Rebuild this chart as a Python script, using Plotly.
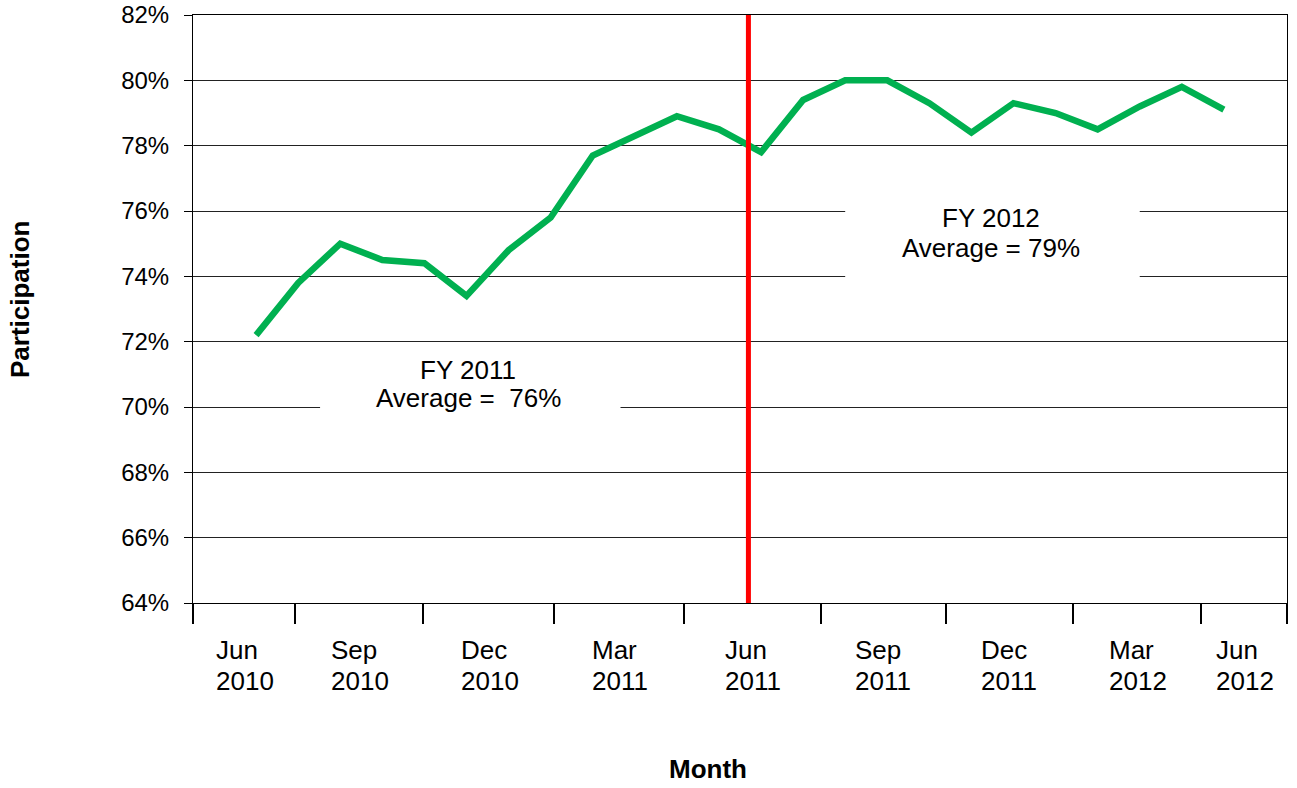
import plotly.graph_objects as go

# ---- data ----
months = ["Jul 2010", "Aug 2010", "Sep 2010", "Oct 2010", "Nov 2010", "Dec 2010",
          "Jan 2011", "Feb 2011", "Mar 2011", "Apr 2011", "May 2011", "Jun 2011",
          "Jul 2011", "Aug 2011", "Sep 2011", "Oct 2011", "Nov 2011", "Dec 2011",
          "Jan 2012", "Feb 2012", "Mar 2012", "Apr 2012", "May 2012", "Jun 2012"]
participation = [72.2, 73.8, 75.0, 74.5, 74.4, 73.4, 74.8, 75.8, 77.7, 78.3, 78.9, 78.5,
                 77.8, 79.4, 80.0, 80.0, 79.3, 78.4, 79.3, 79.0, 78.5, 79.2, 79.8, 79.1]
tick_labels = ["Jun<br>2010", "Sep<br>2010", "Dec<br>2010", "Mar<br>2011", "Jun<br>2011",
               "Sep<br>2011", "Dec<br>2011", "Mar<br>2012", "Jun<br>2012"]
fy_labels = ["FY 2011<br>Average =  76%", "FY 2012<br>Average = 79%"]

# ---- layout helpers (positions on the month-index axis) ----
x_idx = list(range(len(participation)))
tick_bounds = [-1.5, 0.93, 3.97, 7.09, 10.18, 13.42, 16.39, 19.41, 22.45, 24.5]
label_pos = [(a + b) / 2 for a, b in zip(tick_bounds[:-1], tick_bounds[1:])]
fy_divider = 11.7
fy_anchor = [(5.04, 70.7, 14), (17.46, 75.33, 15)]  # x, y, half line spacing (px)

FONT = "Liberation Sans, Arial, sans-serif"
FS = 26

fig = go.Figure()
fig.add_trace(go.Scatter(
    x=x_idx, y=participation, mode="lines",
    line=dict(color="#00B050", width=6.5),
    customdata=months,
    hovertemplate="%{customdata}: %{y:.1f}%<extra></extra>",
    showlegend=False,
))

# white text boxes hiding gridlines behind the FY notes
fig.add_shape(type="rect", x0=1.52, x1=8.66, y0=68.7, y1=71.5, layer="between",
              fillcolor="white", line=dict(width=0))
fig.add_shape(type="rect", x0=14.0, x1=21.0, y0=73.7, y1=76.5, layer="between",
              fillcolor="white", line=dict(width=0))

# FY divider
fig.add_shape(type="line", x0=fy_divider, x1=fy_divider, y0=64, y1=82,
              line=dict(color="#FF0000", width=5), layer="above")

annotations = []
for (ax, ay, half), txt in zip(fy_anchor, fy_labels):
    lines = txt.split("<br>")
    for k, ln in enumerate(lines):
        annotations.append(dict(x=ax, y=ay, xref="x", yref="y", text=ln,
                                showarrow=False, xanchor="center", yanchor="middle",
                                yshift=half if k == 0 else -half,
                                font=dict(family=FONT, size=FS, color="black")))
year_half_w = 0.5 * 4 * 0.556 * FS
for pos, lab in zip(label_pos, tick_labels):
    for k, ln in enumerate(lab.split("<br>")):
        annotations.append(dict(x=pos, y=0, xref="x", yref="paper", text=ln,
                                showarrow=False, xanchor="left", yanchor="middle",
                                xshift=-year_half_w - 1, yshift=-47 - 31 * k,
                                font=dict(family=FONT, size=FS, color="black")))
annotations.append(dict(x=(708 - 193) / 1094, y=0, xref="paper", yref="paper",
                        text="<b>Month</b>", showarrow=False, yanchor="middle",
                        yshift=-166, font=dict(family=FONT, size=FS, color="black")))
annotations.append(dict(x=0, y=(603 - 300) / 588, xref="paper", yref="paper",
                        text="<b>Participation</b>", showarrow=False, textangle=-90,
                        xanchor="center", yanchor="middle", xshift=-173,
                        font=dict(family=FONT, size=FS, color="black")))

fig.update_layout(
    width=1297, height=788,
    margin=dict(l=193, r=10, t=15, b=185, autoexpand=False),
    paper_bgcolor="white", plot_bgcolor="white",
    font=dict(family=FONT, size=24, color="black"),
    annotations=annotations,
    xaxis=dict(
        range=[-1.5, 24.5], showgrid=False, zeroline=False, automargin=False,
        showline=True, linecolor="black", linewidth=1, mirror=True,
        showticklabels=False, ticks="",
        minor=dict(tickmode="array", tickvals=tick_bounds, ticks="outside",
                   ticklen=20, tickwidth=2, tickcolor="black", showgrid=False),
    ),
    yaxis=dict(
        range=[64, 82], dtick=2, tick0=64, ticksuffix="%", automargin=False,
        showgrid=True, gridcolor="#222222", gridwidth=1, zeroline=False,
        showline=True, linecolor="black", linewidth=1, mirror=True,
        ticks="outside", ticklen=8, tickcolor="black", tickwidth=1,
        ticklabelstandoff=10,
        tickfont=dict(family=FONT, size=24, color="black"),
    ),
)

fig.write_html("out.html", config={"displayModeBar": False},
               post_script="document.body.style.margin='0';document.body.style.overflow='hidden';")
